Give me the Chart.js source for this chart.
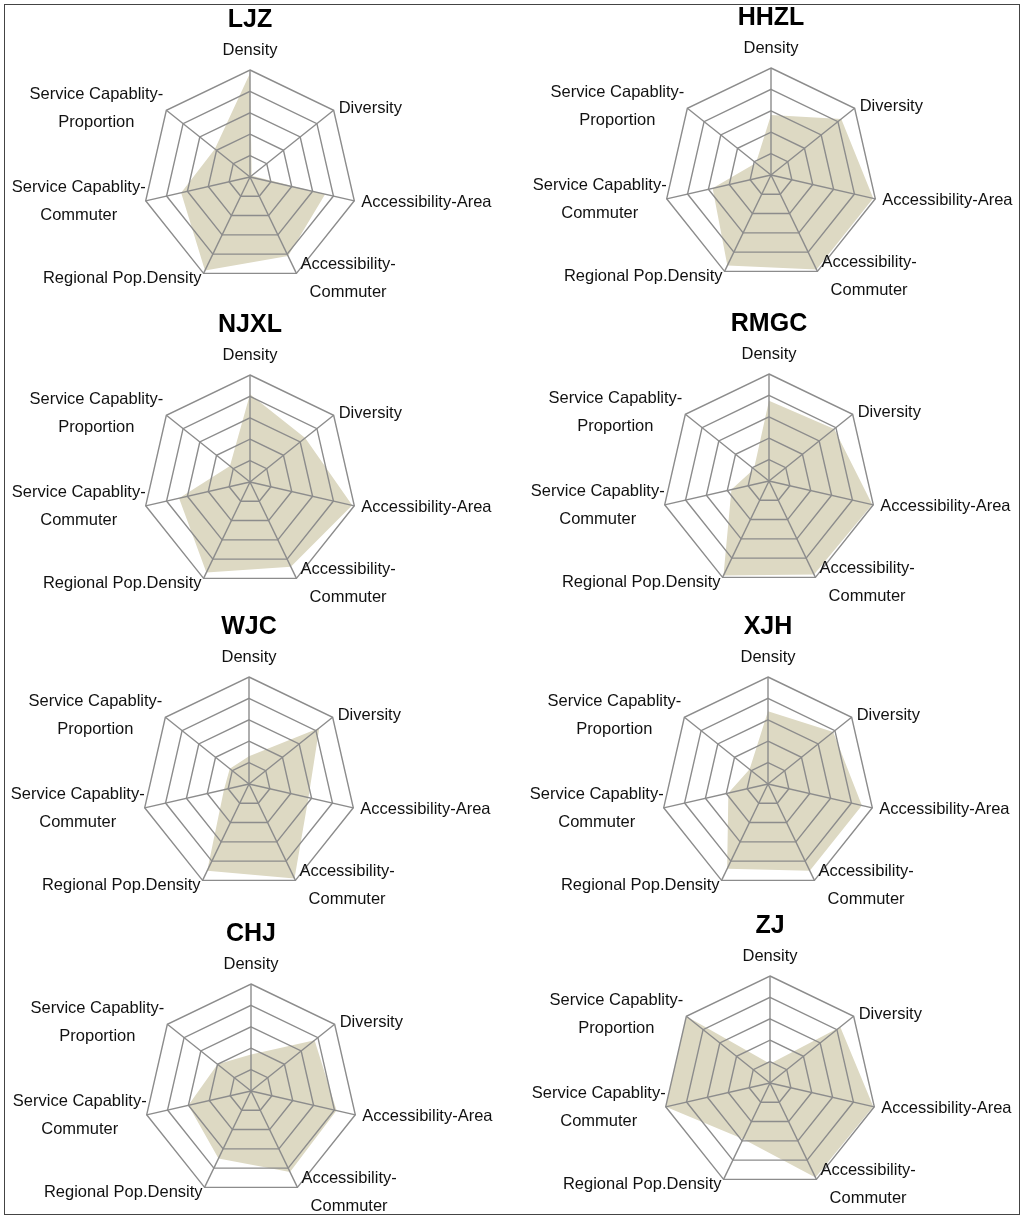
<!DOCTYPE html>
<html><head><meta charset="utf-8">
<script src="https://cdn.jsdelivr.net/npm/chart.js@4.4.1/dist/chart.umd.min.js"></script>
<style>
html,body{margin:0;padding:0;background:#fff;}
#wrap{position:relative;width:1024px;height:1219px;overflow:hidden;background:#fff;}
#frame{position:absolute;left:4px;top:4px;width:1014px;height:1209px;border:1px solid #444;}
canvas{position:absolute;left:0;top:0;}
</style></head><body>
<div id="wrap"><div id="frame"></div></div>
<script>
// ---- data ----
const categories = ['Density','Diversity','Accessibility-Area','Accessibility-Commuter','Regional Pop.Density','Service Capablity-Commuter','Service Capablity-Proportion'];
const labelLines = [['Density'],['Diversity'],['Accessibility-Area'],['Accessibility-','Commuter'],['Regional Pop.Density'],['Service Capablity-','Commuter'],['Service Capablity-','Proportion']];
const titles = ['LJZ','HHZL','NJXL','RMGC','WJC','XJH','CHJ','ZJ'];
const LJZ  = [4.85, 0.1, 3.6, 4.1, 4.85, 3.3, 2.1];
const HHZL = [2.8, 4.2, 4.9, 4.9, 4.7, 2.8, 0.9];
const NJXL = [4.1, 3.3, 4.9, 4.4, 4.7, 3.4, 1.2];
const RMGC = [3.75, 3.9, 4.95, 4.85, 4.9, 1.8, 0.9];
const WJC  = [1.3, 4.2, 2.85, 4.9, 4.5, 1.2, 1.15];
const XJH  = [3.4, 3.9, 4.5, 4.5, 4.4, 1.9, 1.1];
const CHJ  = [1.7, 3.8, 4.1, 4.2, 3.5, 3.0, 2.0];
const ZJ   = [0.9, 4.2, 4.95, 4.9, 2.9, 5.0, 5.0];
const seriesValues = [LJZ, HHZL, NJXL, RMGC, WJC, XJH, CHJ, ZJ];
const scaleMin = 0, scaleMax = 5, scaleStep = 1;

// ---- layout / style ----
const W = 1024, H = 1219, R = 107, LINE_H = 28;
const centers = [[250,177],[771,175],[250,482],[769,481],[249,784],[768,784],[251,1091],[770,1083]];
const labelStyle = [
  {align:'center', dx:0,  dy:-20},
  {align:'left',   dx:5,  dy:-2},
  {align:'left',   dx:7,  dy:2},
  {align:'left',   dx:4,  dy:5},
  {align:'right',  dx:-2, dy:5},
  {align:'right',  dx:0,  dy:1},
  {align:'right',  dx:-3, dy:-2}
];
const GRID = '#8c8c8c', FILL = '#DDD9C3';

const radarText = {
  id:'radarText',
  afterDraw(chart, args, opts){
    const sc = chart.scales.r, ctx = chart.ctx;
    ctx.save();
    ctx.fillStyle = '#111';
    ctx.textBaseline = 'middle';
    ctx.textAlign = 'center';
    ctx.font = '16.5px "Liberation Sans", Arial, sans-serif';
    labelLines.forEach((lines, i) => {
      const p = sc.getPointPosition(i, sc.drawingArea);
      const st = labelStyle[i];
      const bw = Math.max(...lines.map(l => ctx.measureText(l).width));
      let cx = p.x + st.dx;
      if (st.align === 'left') cx += bw/2;
      else if (st.align === 'right') cx -= bw/2;
      const n = lines.length, cy = p.y + st.dy;
      lines.forEach((l, k) => ctx.fillText(l, cx, cy + (k - (n-1)/2) * LINE_H));
    });
    const top = sc.getPointPosition(0, sc.drawingArea);
    ctx.font = 'bold 25px "Liberation Sans", Arial, sans-serif';
    ctx.fillStyle = '#000';
    ctx.fillText(opts.title, top.x, top.y - 50);
    ctx.restore();
  }
};

const wrap = document.getElementById('wrap');
seriesValues.forEach((vals, idx) => {
  const cv = document.createElement('canvas');
  cv.width = W; cv.height = H;
  cv.style.width = W + 'px'; cv.style.height = H + 'px';
  wrap.appendChild(cv);
  const [cx, cy] = centers[idx];
  new Chart(cv, {
    type: 'radar',
    data: { labels: categories, datasets: [{ data: vals, backgroundColor: FILL, borderColor: 'rgba(0,0,0,0)', borderWidth: 0, pointRadius: 0, pointHoverRadius: 0, fill: 'origin' }] },
    options: {
      responsive: false, animation: false, devicePixelRatio: 1,
      events: [],
      layout: { padding: { left: cx - R, top: cy - R, right: W - (cx + R), bottom: H - (cy + R) } },
      plugins: { legend: { display: false }, tooltip: { enabled: false }, title: { display: false }, radarText: { title: titles[idx] } },
      scales: { r: {
        min: scaleMin, max: scaleMax,
        ticks: { display: false, stepSize: scaleStep },
        pointLabels: { display: false },
        grid: { color: GRID, lineWidth: 1.4, z: 1 },
        angleLines: { color: GRID, lineWidth: 1.4 }
      } }
    },
    plugins: [radarText]
  });
});
</script>
</body></html>
